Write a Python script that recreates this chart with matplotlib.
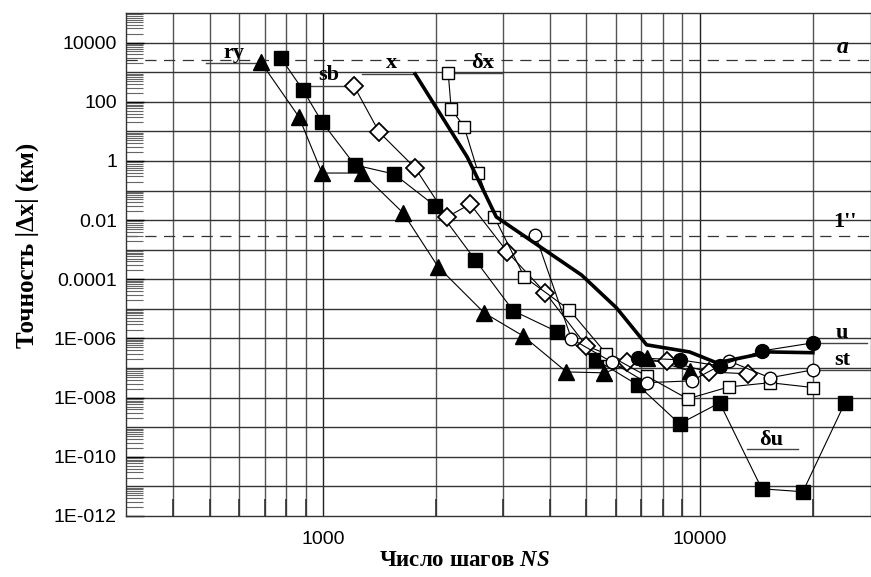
import numpy as np
import matplotlib
matplotlib.use("Agg")
import matplotlib.pyplot as plt
from matplotlib.ticker import LogLocator, FixedLocator, NullFormatter

plt.rcParams['font.family'] = ['Liberation Sans', 'DejaVu Sans']
plt.rcParams['mathtext.fontset'] = 'custom'
plt.rcParams['mathtext.it'] = 'Liberation Serif:italic:bold'
plt.rcParams['mathtext.rm'] = 'Liberation Serif:bold'

# ---------- DATA ----------
ry_ns = [684, 863, 994, 1270, 1632, 2023, 2680, 3404, 4430, 5588, 7228, 9406]
ry_err = [2200, 31, 0.39, 0.39, 0.0175, 2.6e-4, 7.3e-6, 1.2e-6, 7.4e-8, 6.9e-8, 2.2e-7, 8e-8]

du_ns = [773, 885, 994, 1215, 1545, 1986, 2537, 3201, 4192, 5310, 6841, 8847, 11303, 14620, 18790, 24300]
du_err = [3020, 250, 20.8, 0.73, 0.36, 0.030, 4.5e-4, 8.6e-6, 1.67e-6, 1.9e-7, 2.7e-8, 1.3e-9, 6.7e-9,
          8.3e-12, 6.6e-12, 6.7e-9]

sb_ns = [1209, 1409, 1757, 2137, 2460, 3086, 3894, 5006, 6395, 8173, 10566, 13420]
sb_err = [342, 9.5, 0.58, 0.0128, 0.035, 8.4e-4, 3.5e-5, 5.6e-7, 1.62e-7, 1.75e-7, 7.4e-8, 6.4e-8]

dx_ns = [2150, 2190, 2371, 2584, 2850, 3425, 4512, 5657, 7228, 9292, 11944, 15360, 19980]
dx_err = [940, 57, 14.1, 0.39, 0.0128, 1.2e-4, 9.2e-6, 3.0e-7, 5.4e-8, 9.1e-9, 2.3e-8, 3.2e-8, 2.2e-8]

x_ns = [1757, 2415, 2885, 4856, 6016, 7228, 9406, 11100, 15360, 19980]
x_err = [869, 1.36, 0.0128, 1.4e-4, 1.08e-5, 6.1e-7, 3.5e-7, 1.5e-7, 3.5e-7, 3.3e-7]

u_ns = [6841, 8847, 11303, 14620, 19980]
u_err = [2.2e-7, 1.9e-7, 1.19e-7, 3.8e-7, 7.1e-7]

st_ns = [3663, 4567, 5834, 7228, 9522, 11944, 15360, 19980]
st_err = [3.2e-3, 9.7e-7, 1.62e-7, 3.2e-8, 3.7e-8, 1.75e-7, 4.7e-8, 8.7e-8]

level_a = 2600
level_sec = 0.003

ytick_vals = [1e-12, 1e-10, 1e-8, 1e-6, 1e-4, 1e-2, 1, 100, 10000]
ytick_labels = ['1E-012', '1E-010', '1E-008', '1E-006', '0.0001', '0.01', '1', '100', '10000']

# ---------- FIGURE ----------
fig = plt.figure(figsize=(8.71, 5.77), dpi=100)
ax = fig.add_axes([126/871, 1-516/577, 745/871, 503/577])
ax.set_xscale('log')
ax.set_yscale('log')
ax.set_xlim(300, 28500)
ax.set_ylim(1e-12, 1e5)

# grid
for v in [400, 500, 600, 700, 800, 900, 2000, 3000, 4000, 5000, 6000, 7000, 8000, 9000, 20000]:
    ax.axvline(v, color='#555555', lw=1, zorder=0)
for v in [1000, 10000]:
    ax.axvline(v, color='#222222', lw=1, zorder=0)
for e in range(-11, 5):
    ax.axhline(10.0**e, color='#333333', lw=1, zorder=0)

ax.axhline(level_a, color='#333333', lw=0.9, ls=(0, (9, 6)), zorder=1)
ax.axhline(level_sec, color='#333333', lw=0.9, ls=(0, (9, 6)), zorder=1)

thin = dict(color='black', lw=0.8, zorder=3)
ax.plot(ry_ns, ry_err, marker='^', ms=12, mfc='black', mec='black', **thin)
ax.plot(du_ns, du_err, marker='s', ms=10, mfc='black', mec='black', **thin)
ax.plot(sb_ns, sb_err, marker='D', ms=9, mfc='white', mec='black', mew=1.3, **thin)
ax.plot(dx_ns, dx_err, marker='s', ms=9, mfc='white', mec='black', mew=1, **thin)
ax.plot(x_ns, x_err, color='black', lw=2.6, zorder=4)
ax.plot(st_ns, st_err, marker='o', ms=9, mfc='white', mec='black', mew=1, **thin)
ax.plot(u_ns, u_err, marker='o', ms=10, mfc='black', mec='black', **thin)

# series labels with leader lines
lead = dict(color='#444444', lw=1, zorder=2)
lbl = dict(family='Liberation Serif', fontweight='bold', fontsize=16, ha='center', va='center')
ax.plot([489, ry_ns[0]], [2050, 2050], **lead)
ax.text(580, 4600, 'ry', **lbl)
ax.plot([918, sb_ns[0]], [sb_err[0], sb_err[0]], **lead)
ax.text(1037, 800, 'sb', **lbl)
ax.plot([1270, x_ns[0]], [x_err[0], x_err[0]], **lead)
ax.text(1517, 2050, 'x', **lbl)
ax.plot([2123, 2995], [dx_err[0], dx_err[0]], **lead)
ax.text(2650, 2050, 'δx', **lbl)
ax.plot([u_ns[-1], 27800], [u_err[-1], u_err[-1]], **lead)
ax.text(23900, 1.55e-6, 'u', **lbl)
ax.plot([st_ns[-1], 28500], [st_err[-1], st_err[-1]], **lead)
ax.text(23900, 1.9e-7, 'st', **lbl)
ax.plot([13330, 18240], [1.86e-10, 1.86e-10], **lead)
ax.text(15520, 3.75e-10, 'δu', **lbl)
ax.text(23900, 6580, 'a', family='Liberation Serif', fontweight='bold', style='italic',
        fontsize=17, ha='center', va='center')
ax.text(24300, 0.0087, "1''", **lbl)

# ticks
ax.yaxis.set_major_locator(FixedLocator(ytick_vals))
ax.set_yticklabels(ytick_labels)
ax.yaxis.set_minor_locator(LogLocator(base=10, subs=np.arange(2, 10), numticks=40))
ax.yaxis.set_minor_formatter(NullFormatter())
ax.xaxis.set_major_locator(FixedLocator([1000, 10000]))
ax.set_xticklabels(['1000', '10000'])
ax.xaxis.set_minor_locator(FixedLocator([400, 500, 600, 700, 800, 900, 2000, 3000, 4000, 5000,
                                         6000, 7000, 8000, 9000, 20000]))
ax.xaxis.set_minor_formatter(NullFormatter())
ax.tick_params(axis='y', which='major', direction='in', length=13, width=1, labelsize=14, pad=6.5)
ax.tick_params(axis='y', which='minor', direction='in', length=12, width=0.8, color='#666666')
ax.tick_params(axis='x', which='major', direction='in', length=0, labelsize=14, pad=11)
ax.tick_params(axis='x', which='minor', direction='in', length=12, width=1.2, color='#333333')

for s in ax.spines.values():
    s.set_color('#333333')
    s.set_linewidth(1)

fig.text(465/871, 1-561/577, 'Число шагов $\\mathit{NS}$', family='Liberation Serif',
         fontweight='bold', fontsize=16.5, ha='center', va='center')
fig.text(27/871, 1-245/577, 'Точность |Δx| (км)', family='Liberation Serif',
         fontweight='bold', fontsize=18, ha='center', va='center', rotation=90)

fig.savefig('out.png', dpi=100)
